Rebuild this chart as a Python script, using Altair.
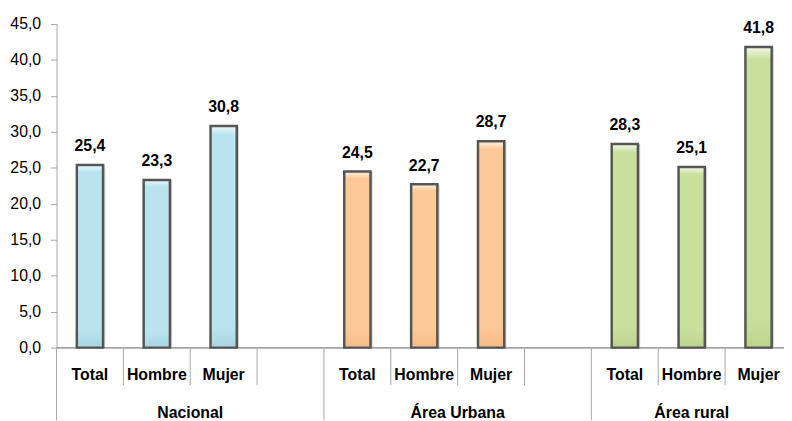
import altair as alt
import pandas as pd

# ---- data ----
groups = ["Nacional", "Área Urbana", "Área rural"]
sexes = ["Total", "Hombre", "Mujer"]
nacional = [25.4, 23.3, 30.8]
urbana = [24.5, 22.7, 28.7]
rural = [28.3, 25.1, 41.8]
y_ticks = [0, 5, 10, 15, 20, 25, 30, 35, 40, 45]

series = [nacional, urbana, rural]
colors = [
    ("#eef9fc", "#b9e3ef", "#a9d6e4"),
    ("#fff3e6", "#fdc898", "#f6bb86"),
    ("#f5f9ea", "#cadf9e", "#bcd38c"),
]

N_SLOTS = 11
W = 735
H = 327
SLOT_PX = 67.55
X_MAX = W / SLOT_PX  # visible part of the 11 slots
FONT = "Liberation Sans, Arial, sans-serif"
FS = 16
GRAY = "#a6a6a6"

rows = []
for g, (grp, vals) in enumerate(zip(groups, series)):
    for s, (sex, v) in enumerate(zip(sexes, vals)):
        slot = 4 * g + s
        rows.append({"group": grp, "gi": g, "sex": sex, "value": v,
                     "xc": slot + 0.5,
                     "label": f"{v:.1f}".replace(".", ",")})
df = pd.DataFrame(rows)

grp_rows = []
for g, grp in enumerate(groups):
    start = 4 * g
    end = min(4 * g + 4, N_SLOTS)
    grp_rows.append({"group": grp, "xc": (start + end) / 2})
gdf = pd.DataFrame(grp_rows)

sep_rows = []
for b in range(0, N_SLOTS):
    sep_rows.append({"xb": b, "kind": "long" if b % 4 == 0 else "short"})
sdf = pd.DataFrame(sep_rows)

xscale = alt.Scale(domain=[0, X_MAX], nice=False, zero=False, padding=0)
yscale = alt.Scale(domain=[0, 45], nice=False, padding=0)
yaxis = alt.Axis(values=y_ticks, title=None, grid=False, labelOverlap=False,
                 labelExpr="replace(format(datum.value, '.1f'), '.', ',')",
                 tickSize=6, labelPadding=10, labelFontSize=FS,
                 labelFont=FONT, labelColor="#000000",
                 domainColor=GRAY, tickColor=GRAY)

base = alt.Chart(df)

bar_layers = []
for g in range(3):
    top, mid, bot = colors[g]
    grad = alt.Gradient(gradient="linear", x1=0, y1=0, x2=0, y2=1,
                        stops=[alt.GradientStop(offset=0, color=top),
                               alt.GradientStop(offset=0.04, color=mid),
                               alt.GradientStop(offset=0.9, color=mid),
                               alt.GradientStop(offset=1, color=bot)])
    shadow = base.transform_filter(alt.datum.gi == g).mark_bar(
        orient="vertical", size=27, color="#000000", opacity=0.18, xOffset=2
    ).encode(
        x=alt.X("xc:Q", scale=xscale, axis=None),
        y=alt.Y("value:Q", scale=yscale, axis=yaxis),
    )
    bars = base.transform_filter(alt.datum.gi == g).mark_bar(
        orient="vertical", size=26.5, fill=grad, stroke="#555555", strokeWidth=2.5
    ).encode(
        x=alt.X("xc:Q", scale=xscale, axis=None),
        y=alt.Y("value:Q", scale=yscale, axis=yaxis),
    )
    bar_layers += [shadow, bars]

values_txt = base.mark_text(
    font=FONT, fontSize=FS, fontWeight="bold", baseline="alphabetic", dy=-14, color="#000000"
).encode(
    x=alt.X("xc:Q", scale=xscale, axis=None),
    y=alt.Y("value:Q", scale=yscale, axis=yaxis),
    text="label:N",
)

sex_txt = base.mark_text(
    font=FONT, fontSize=FS, fontWeight="bold", baseline="alphabetic", color="#000000"
).encode(
    x=alt.X("xc:Q", scale=xscale, axis=None),
    y=alt.value(360),
    text="sex:N",
)

grp_txt = alt.Chart(gdf).mark_text(
    font=FONT, fontSize=FS, fontWeight="bold", baseline="alphabetic", color="#000000"
).encode(
    x=alt.X("xc:Q", scale=xscale, axis=None),
    y=alt.value(398),
    text="group:N",
)

baseline = alt.Chart(sdf).mark_rule(color=GRAY, strokeWidth=1).encode(
    x=alt.value(0), x2=alt.value(W), y=alt.value(H)
)

short_sep = alt.Chart(sdf).transform_filter(alt.datum.kind == "short").mark_rule(
    color=GRAY, strokeWidth=1
).encode(
    x=alt.X("xb:Q", scale=xscale, axis=None),
    y=alt.value(H), y2=alt.value(365),
)

long_sep = alt.Chart(sdf).transform_filter(alt.datum.kind == "long").mark_rule(
    color=GRAY, strokeWidth=1
).encode(
    x=alt.X("xb:Q", scale=xscale, axis=None),
    y=alt.value(H), y2=alt.value(400),
)

chart = alt.layer(
    baseline, short_sep, long_sep, *bar_layers, values_txt, sex_txt, grp_txt
).properties(
    width=W, height=H,
    autosize=alt.AutoSizeParams(type="none"),
    padding={"left": 49, "top": 14, "right": 0, "bottom": 72},
).configure_view(stroke=None)

chart.save("out.html", embed_options={"renderer": "svg", "actions": False})
